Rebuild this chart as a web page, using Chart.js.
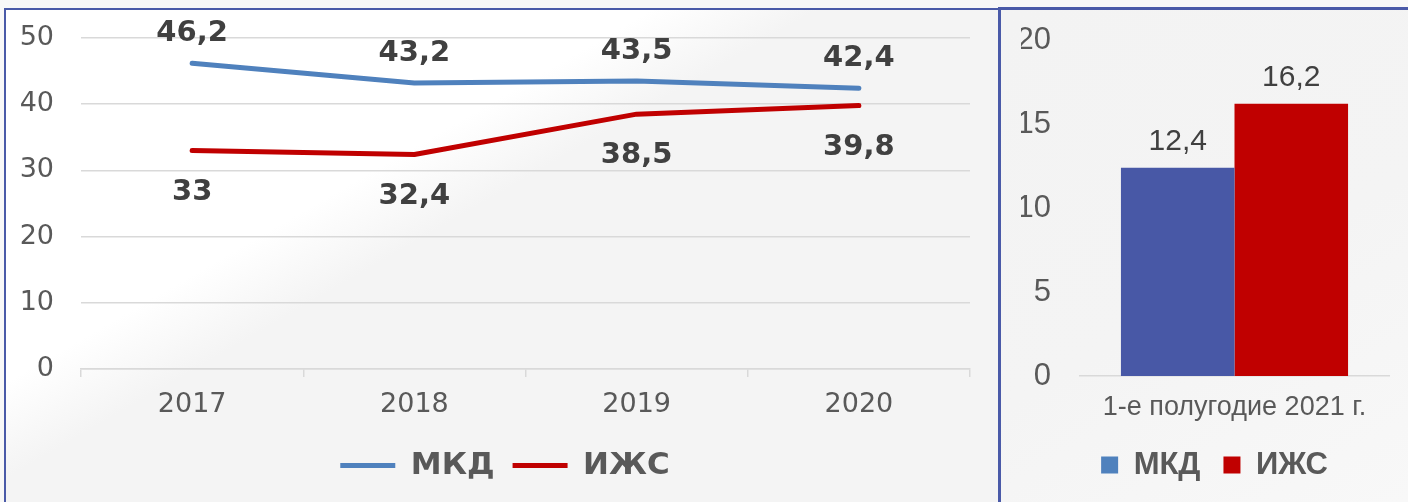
<!DOCTYPE html>
<html>
<head>
<meta charset="utf-8">
<script src="https://cdn.jsdelivr.net/npm/chart.js@4.4.1/dist/chart.umd.min.js"></script>
<style>
  html, body { margin: 0; padding: 0; width: 1408px; height: 502px; overflow: hidden; background: #f8f8f8; }
  #leftBox {
    position: absolute; left: 4px; top: 8px; width: 992px; height: 492px;
    border-left: 2px solid #4a5aa8; border-top: 2px solid #4a5aa8;
    background: linear-gradient(150deg, #ffffff 0%, #ffffff 35%, #f4f4f4 44%, #f4f4f4 100%);
  }
  #rightBox {
    position: absolute; left: 998px; top: 7px; width: 407px; height: 492px;
    border-left: 3px solid #4a5aa8; border-top: 3px solid #4a5aa8;
    background: linear-gradient(150deg, #f3f3f3 0%, #f4f4f4 55%, #f8f8f8 100%);
  }
  canvas { display: block; }
</style>
</head>
<body>
<div id="leftBox"><canvas id="lineChart" width="992" height="492"></canvas></div>
<div id="rightBox"><canvas id="barChart" width="407" height="492"></canvas></div>

<script>
// === данные ===
const years = ["2017", "2018", "2019", "2020"];
const mkdValues = [46.2, 43.2, 43.5, 42.4];
const izhsValues = [33, 32.4, 38.5, 39.8];
const lineTicks = [0, 10, 20, 30, 40, 50];

const halfYearLabels = ["1-е полугодие 2021 г."];
const mkdHalfYear = [12.4];
const izhsHalfYear = [16.2];
const barTicks = [0, 5, 10, 15, 20];

const seriesNames = ["МКД", "ИЖС"];

// === цвета ===
const blueLine = "#4f81bd";
const blueBar = "#4858a6";
const red = "#c00000";
const gridColor = "#d9d9d9";
const tickColor = "#595959";
const labelColor = "#404040";

Chart.defaults.animation = false;
Chart.defaults.responsive = false;

const fmt = (v) => String(v).replace(".", ",");

// подписи значений (в духе Excel)
const valueLabels = {
  id: "valueLabels",
  afterDatasetsDraw(chart, args, opts) {
    const ctx = chart.ctx;
    ctx.save();
    ctx.font = opts.font;
    ctx.fillStyle = opts.color;
    ctx.textAlign = "center";
    ctx.textBaseline = "alphabetic";
    chart.data.datasets.forEach((ds, i) => {
      const meta = chart.getDatasetMeta(i);
      meta.data.forEach((el, j) => {
        const dy = ds.labelBelow ? opts.below : -opts.above;
        ctx.fillText(fmt(ds.data[j]), el.x, el.y + dy);
      });
    });
    ctx.restore();
  },
};

// убрать лишний отступ оси сверху/снизу, который Chart.js добавляет от ticks.padding
const fixAxis = (w) => (s) => {
  s.width = w;
  s.paddingTop = 0;
  s.paddingBottom = 0;
};

// === линейный график ===
const lineLegendPad = 18;
new Chart(document.getElementById("lineChart"), {
  type: "line",
  data: {
    labels: years,
    datasets: [
      {
        label: seriesNames[0],
        data: mkdValues,
        borderColor: blueLine,
        backgroundColor: blueLine,
        borderWidth: 5,
        borderCapStyle: "round",
        borderJoinStyle: "round",
        pointRadius: 0,
        tension: 0,
      },
      {
        label: seriesNames[1],
        data: izhsValues,
        borderColor: red,
        backgroundColor: red,
        borderWidth: 5,
        borderCapStyle: "round",
        borderJoinStyle: "round",
        pointRadius: 0,
        tension: 0,
        labelBelow: true,
      },
    ],
  },
  plugins: [valueLabels],
  options: {
    layout: { padding: { top: 28, right: 0, bottom: 11, left: 6 } },
    scales: {
      x: {
        type: "category",
        offset: true,
        grid: { offset: true, drawOnChartArea: false, drawTicks: true, tickLength: 8, color: gridColor, lineWidth: 1.5 },
        border: { color: gridColor, width: 1.5 },
        ticks: { color: tickColor, font: { family: "DejaVu Sans", size: 27 }, padding: 12, maxRotation: 0 },
        afterFit: (s) => { s.height = 81 - lineLegendPad; },
      },
      y: {
        min: 0,
        max: 50,
        afterBuildTicks: (s) => { s.ticks = lineTicks.map((v) => ({ value: v })); },
        grid: { color: gridColor, lineWidth: 1.5, drawTicks: false },
        border: { display: false },
        ticks: { color: tickColor, font: { family: "DejaVu Sans", size: 27 }, padding: 27 },
        afterFit: fixAxis(69),
      },
      pad: {
        position: "right",
        display: true,
        grid: { display: false, drawTicks: false },
        border: { display: false },
        ticks: { display: false },
        afterFit: fixAxis(28),
      },
    },
    plugins: {
      legend: {
        position: "bottom",
        labels: {
          usePointStyle: true,
          pointStyle: "line",
          pointStyleWidth: 55,
          padding: lineLegendPad,
          color: tickColor,
          font: { family: "DejaVu Sans", size: 31, weight: "bold" },
        },
      },
      tooltip: { enabled: false },
      valueLabels: { font: "bold 29px 'DejaVu Sans'", color: labelColor, above: 22, below: 49 },
    },
  },
});

// === столбчатая диаграмма ===
const legendColors = [blueLine, red];
const barLegendPad = 23;
new Chart(document.getElementById("barChart"), {
  type: "bar",
  data: {
    labels: halfYearLabels,
    datasets: [
      { label: seriesNames[0], data: mkdHalfYear, backgroundColor: blueBar, categoryPercentage: 0.735, barPercentage: 1 },
      { label: seriesNames[1], data: izhsHalfYear, backgroundColor: red, categoryPercentage: 0.735, barPercentage: 1 },
    ],
  },
  plugins: [valueLabels],
  options: {
    layout: { padding: { top: 30, right: 0, bottom: 11.5, left: 20 } },
    scales: {
      x: {
        grid: { display: false, drawTicks: false },
        border: { color: gridColor, width: 1.5 },
        ticks: { color: tickColor, font: { family: "Liberation Sans", size: 27 }, padding: 15 },
        afterFit: (s) => { s.height = 73.5 - barLegendPad; },
      },
      y: {
        min: 0,
        max: 20,
        afterBuildTicks: (s) => { s.ticks = barTicks.map((v) => ({ value: v })); },
        grid: { display: false, drawTicks: false },
        border: { display: false },
        ticks: { color: tickColor, font: { family: "Liberation Sans", size: 31 }, padding: 29 },
        afterFit: fixAxis(59),
      },
      pad: {
        position: "right",
        display: true,
        grid: { display: false, drawTicks: false },
        border: { display: false },
        ticks: { display: false },
        afterFit: fixAxis(19),
      },
    },
    plugins: {
      legend: {
        position: "bottom",
        labels: {
          boxWidth: 17,
          boxHeight: 17,
          padding: barLegendPad,
          color: tickColor,
          font: { family: "Liberation Sans", size: 31, weight: "bold" },
          generateLabels: (chart) =>
            Chart.defaults.plugins.legend.labels.generateLabels(chart).map((item, i) => ({
              ...item,
              fillStyle: legendColors[i],
              strokeStyle: legendColors[i],
              lineWidth: 0,
            })),
        },
      },
      tooltip: { enabled: false },
      valueLabels: { font: "30px 'Liberation Sans'", color: labelColor, above: 18, below: 0 },
    },
  },
});
</script>
</body>
</html>
